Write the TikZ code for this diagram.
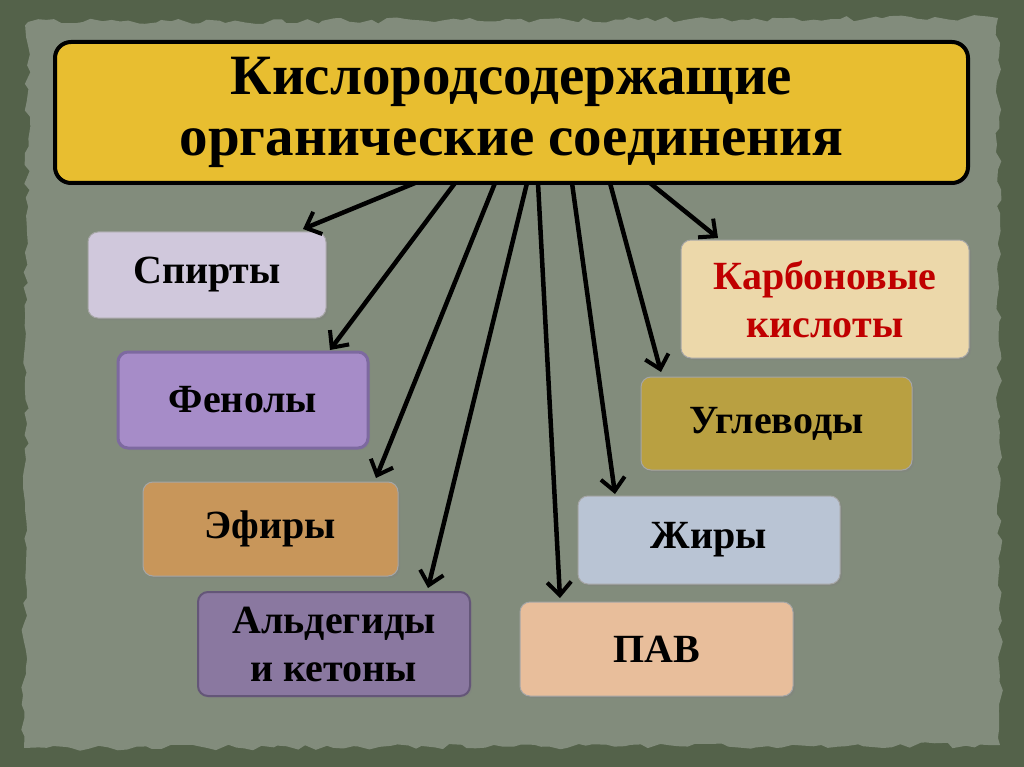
\documentclass[tikz,border=0pt]{standalone}
\usepackage{fontspec}
\setmainfont{Liberation Serif}
\usetikzlibrary{arrows.meta,calc,decorations.pathmorphing,shadows}
\definecolor{outerbg}{RGB}{84,98,74}
\definecolor{innerbg}{RGB}{130,140,124}
\definecolor{titlefill}{RGB}{232,190,48}
\definecolor{cSpirty}{RGB}{208,200,220}
\definecolor{cFenoly}{RGB}{166,140,200}
\definecolor{cFenolyB}{RGB}{125,105,160}
\definecolor{cEfiry}{RGB}{200,150,90}
\definecolor{cAld}{RGB}{138,120,160}
\definecolor{cAldB}{RGB}{100,86,120}
\definecolor{cPav}{RGB}{232,190,155}
\definecolor{cZhiry}{RGB}{185,196,212}
\definecolor{cUgl}{RGB}{185,160,65}
\definecolor{cKarb}{RGB}{236,216,170}
\definecolor{redtext}{RGB}{192,0,0}
\tikzset{
  box/.style={rounded corners=10pt, outer sep=0pt, inner sep=0pt, align=center,
    font=\fontsize{40}{48}\selectfont\bfseries, draw=black!35, line width=1pt,
    drop shadow={opacity=0.35, shadow xshift=2pt, shadow yshift=-2pt}},
  arr/.style={line width=4.5pt, -{Straight Barb[length=13pt,width=24pt,line width=4pt]}},
}
\begin{document}
\begin{tikzpicture}[x=1pt,y=-1pt]
\useasboundingbox (0,0) rectangle (1024,767);
\fill[outerbg] (0,0) rectangle (1024,767);
\fill[innerbg, decorate, decoration={random steps, segment length=9pt, amplitude=3pt}]
  (28,22) -- (998,18) -- (1000,745) -- (24,748) -- cycle;
% title
\node[draw=black, line width=4pt, fill=titlefill, rounded corners=16pt, outer sep=0pt,
  minimum width=913pt, minimum height=141pt, align=center,
  drop shadow={opacity=0.35, shadow xshift=2pt, shadow yshift=-3pt},
  font=\fontsize{57}{61}\selectfont\bfseries] (title) at (511.5,112.5)
  {Кислородсодержащие\\органические соединения};
% boxes
\node[box, fill=cSpirty, minimum width=238pt, minimum height=86pt] (spirty) at (207,275) {Спирты};
\node[box, fill=cFenoly, draw=cFenolyB, line width=3pt, minimum width=250pt, minimum height=96pt] (fenoly) at (243,400) {Фенолы};
\node[box, fill=cEfiry, minimum width=255pt, minimum height=94pt] (efiry) at (270.5,529) {Эфиры};
\node[box, fill=cAld, draw=cAldB, line width=2pt, minimum width=272pt, minimum height=104pt] (ald) at (334,644) {Альдегиды\\и кетоны};
\node[box, fill=cPav, minimum width=273pt, minimum height=94pt] (pav) at (656.5,649) {ПАВ};
\node[box, fill=cZhiry, minimum width=262pt, minimum height=88pt] (zhiry) at (709,540) {Жиры};
\node[box, fill=cUgl, minimum width=271pt, minimum height=93pt] (ugl) at (776.5,423.5) {Углеводы};
\node[box, fill=cKarb, text=redtext, minimum width=288pt, minimum height=118pt] (karb) at (825,299) {Карбоновые\\кислоты};
% arrows
\draw[arr] ($(title.south)+(-96.5,0)$) -- ($(spirty.north)+(96,-3)$);
\draw[arr] ($(title.south)+(-56.5,0)$) -- ($(fenoly.north)+(87,-2)$);
\draw[arr] ($(title.south)+(-16.5,0)$) -- ($(efiry.north)+(105.5,-4)$);
\draw[arr] ($(title.south)+(15.5,0)$) -- ($(ald.north)+(94,-4)$);
\draw[arr] ($(title.south)+(26.5,0)$) -- ($(pav.north)+(-96.5,-4)$);
\draw[arr] ($(title.south)+(60.5,0)$) -- ($(zhiry.north)+(-94,-2)$);
\draw[arr] ($(title.south)+(98.5,0)$) -- ($(ugl.north)+(-115.5,-5)$);
\draw[arr] ($(title.south)+(138.5,0)$) -- ($(karb.north)+(-107,-2)$);
\end{tikzpicture}
\end{document}
